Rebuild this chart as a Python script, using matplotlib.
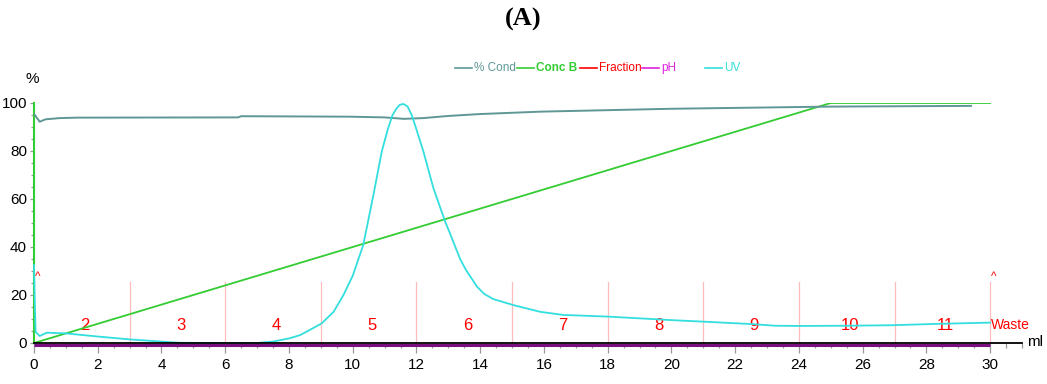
import matplotlib
matplotlib.use("Agg")
import matplotlib.pyplot as plt
from matplotlib.ticker import MultipleLocator
from matplotlib.lines import Line2D
from matplotlib import font_manager
from matplotlib.transforms import offset_copy

def pick_font():
    for fam in ['Liberation Sans Narrow', 'Arial Narrow']:
        try:
            font_manager.findfont(font_manager.FontProperties(family=fam),
                                  fallback_to_default=False)
            return fam, True
        except Exception:
            pass
    return 'Liberation Sans', False

FAM, IS_NARROW = pick_font()
NARROW = [FAM, 'DejaVu Sans']
K = 1.15 if IS_NARROW else 1.0  # size factor

# ---- data ----
uv_ml = [0, 0.02, 0.05, 0.18, 0.4, 1.0, 2.0, 3.0, 4.0, 4.57, 5.4, 7.0, 7.5, 8.03,
         8.35, 8.55, 9.03, 9.4, 9.71, 10.0, 10.33, 10.65, 10.91, 11.1, 11.25, 11.38,
         11.47, 11.59, 11.72, 11.85, 12.0, 12.22, 12.53, 12.9, 13.03, 13.37, 13.55,
         13.9, 14.12, 14.41, 15.04, 15.88, 16.6, 18.0, 20.2, 21.0, 22.5, 23.25, 24.0,
         25.5, 26.9, 28.15, 30.0]
uv = [32.5, 20, 4.7, 2.9, 4.3, 4.0, 2.7, 1.5, 0.6, 0.1, 0, 0, 0.6, 2.0,
      3.3, 4.7, 8.2, 13, 20, 28, 40.8, 61.7, 79.7, 89, 95, 97.8,
      99.2, 99.6, 98.6, 95, 89, 79.7, 64.6, 50.6, 46.4, 35, 30.5,
      23.5, 20.5, 18.3, 15.8, 13, 11.7, 11.0, 9.4, 8.9, 7.9, 7.2, 7.1,
      7.2, 7.4, 7.9, 8.5]

cond_ml = [0, 0.08, 0.18, 0.36, 0.8, 1.34, 6.4, 6.5, 9.9, 11.0, 11.6, 12.2, 13.0,
           14.0, 15.9, 20, 25, 29.4]
cond = [95.5, 94, 92.2, 93.2, 93.7, 93.9, 94.0, 94.5, 94.3, 94.0, 93.4, 93.7, 94.6,
        95.4, 96.4, 97.6, 98.5, 98.8]

concb_ml = [0, 25, 30]
concb = [0, 100, 100]

ph_ml = [0, 30]
ph = [0, 0]

frac_bounds = [3, 6, 9, 12, 15, 18, 21, 24, 27, 30]
frac_starts = [0, 3, 6, 9, 12, 15, 18, 21, 24, 27]
frac_labels = ['2', '3', '4', '5', '6', '7', '8', '9', '10', '11']

# ---- colors ----
C_COND = '#5f9797'
C_CONC = '#33cc33'
C_FRAC = '#ff0000'
C_PH = '#dd22dd'
C_PH_LINE = '#7a1080'
C_UV = '#33dede'

fig = plt.figure(figsize=(10.47, 3.84), dpi=100)
ax = fig.add_axes([34/1047, 1-343/384, (1022-34)/1047, (343-103)/384])

ax.set_xlim(0, 31)
ax.set_ylim(0, 100)

# fraction marks
for b in frac_bounds:
    ax.plot([b, b], [0, 25.5], color='#ffbcbc', lw=0.9, zorder=1)
for s, lab in zip(frac_starts, frac_labels):
    ax.text(s + 1.6, 7.5, lab, color=C_FRAC, ha='center', va='center',
            fontsize=12*K, family=NARROW, zorder=2)
ax.text(30.03, 7.5, 'Waste', color=C_FRAC, ha='left', va='center',
        fontsize=10*K, family=NARROW, clip_on=False)
for m in [0.12, 30.1]:
    ax.text(m, 27.5, '^', color=C_FRAC, ha='center', va='center', fontsize=8.5*K,
            family=NARROW, clip_on=False)

ax.plot(concb_ml, concb, color=C_CONC, lw=1.3, zorder=3)
ax.plot(cond_ml, cond, color=C_COND, lw=1.4, zorder=3)
ax.plot(uv_ml, uv, color=C_UV, lw=1.3, zorder=4, clip_on=False)
ph_tr = offset_copy(ax.transData, fig=fig, x=0, y=-1.5, units='dots')
ax.plot(ph_ml, ph, color=C_PH_LINE, lw=2.2, zorder=5, clip_on=False,
        transform=ph_tr, solid_capstyle='butt')

# spines
for s in ['top', 'right']:
    ax.spines[s].set_visible(False)
ax.spines['left'].set_color(C_CONC)
ax.spines['left'].set_linewidth(1.5)
ax.spines['bottom'].set_color('black')
ax.spines['bottom'].set_linewidth(1.3)
ax.spines['bottom'].set_zorder(6)

ax.xaxis.set_major_locator(MultipleLocator(2))
ax.xaxis.set_minor_locator(MultipleLocator(0.5))
ax.yaxis.set_major_locator(MultipleLocator(20))
ax.yaxis.set_minor_locator(MultipleLocator(5))
ax.tick_params(axis='x', which='major', length=7, width=0.9, color='#999999',
               labelsize=11*K, pad=4)
ax.tick_params(axis='x', which='minor', length=3.5, width=0.9, color='#999999')
ax.tick_params(axis='y', which='major', length=3, width=0.9, color='#999999',
               labelsize=11*K, pad=2)
ax.tick_params(axis='y', which='minor', length=2, width=0.9, color='#999999')
for lab in ax.get_xticklabels() + ax.get_yticklabels():
    lab.set_family(NARROW)

ax.text(-0.0015, 1.1, '%', transform=ax.transAxes, ha='center', va='center',
        fontsize=11*K, family=NARROW)
ax.text(31.15, 0.5, 'ml', ha='left', va='center', fontsize=11*K, family=NARROW,
        clip_on=False)

fig.text(523/1047, 1-19/384, '(A)', ha='center', va='center', fontsize=19,
         fontweight='bold', family=['Liberation Serif', 'DejaVu Serif'])

# legend (manual)
leg_items = [('% Cond', C_COND, 'normal', 455),
             ('Conc B', C_CONC, 'bold', 517),
             ('Fraction', C_FRAC, 'normal', 580),
             ('pH', C_PH, 'normal', 642),
             ('UV', C_UV, 'normal', 705)]
ly = 1 - 68/384
for lab, col, wt, xp in leg_items:
    fig.add_artist(Line2D([xp/1047, (xp+17)/1047], [ly, ly], color=col, lw=1.2))
    fig.text((xp+19)/1047, ly, lab, color=col, fontweight=wt, ha='left',
             va='center', fontsize=8.5*K, family=NARROW)

fig.savefig('out.png', dpi=100)
